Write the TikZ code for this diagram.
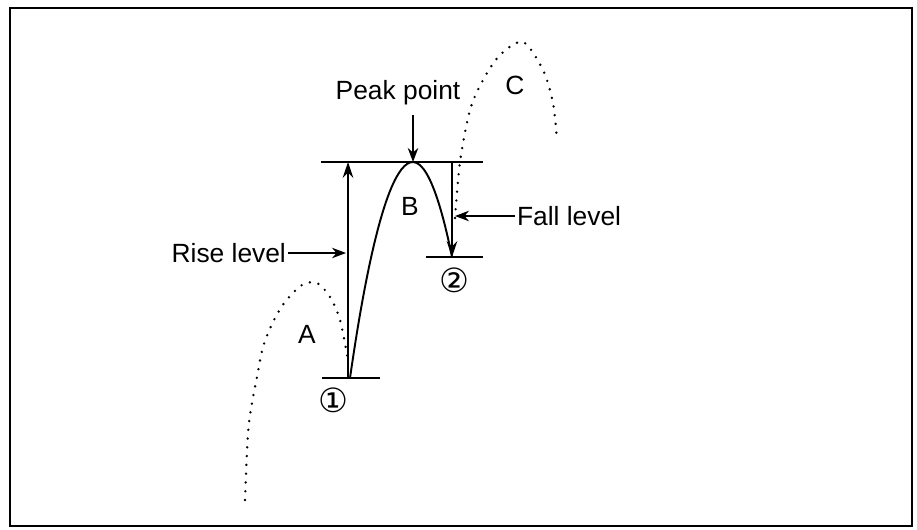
\documentclass[tikz,border=0pt]{standalone}
\usepackage{fontspec}
\setmainfont{Liberation Sans}
\newfontfamily\circfont{DejaVu Sans}
\usetikzlibrary{arrows.meta,positioning,calc}
\tikzset{
  lbl/.style={font=\fontsize{15}{18}\selectfont,inner sep=1pt},
  circnum/.style={font=\circfont\fontsize{19}{22}\selectfont,inner sep=0pt},
  levelline/.style={line width=0.8pt},
  pointer/.style={line width=0.6pt,-{Stealth[length=8pt,width=6pt]}},
  dotcurve/.style={line width=1.5pt,line cap=round,dash pattern=on 0pt off 5pt}
}

\begin{document}
\begin{tikzpicture}
    \useasboundingbox (0,0) rectangle (18.34,10.58);
    \draw[line width=1.2pt] (0.2,0.06) rectangle (18.24,10.42);
    % levels
    \coordinate (low1) at (6.96,3.02);
    \coordinate (peak) at (8.26,7.34);
    \coordinate (low2) at (9.04,5.44);
    \draw[levelline] (6.42,7.34) -- (9.66,7.34);
    \draw[levelline] (6.44,3.02) -- (7.6,3.02);
    \draw[levelline] (8.52,5.44) -- (9.66,5.44);
    \draw[line width=1.1pt,-{Stealth[length=9pt,width=6pt]}] (low1) -- (6.96,7.34);
    \draw[line width=1.1pt,-{Stealth[length=9pt,width=6pt]}] (9.04,7.34) -- (low2);
    \draw[line width=1.1pt] (7.0,3.02) parabola bend (peak) (low2);
    % dotted jumps
    \draw[dotcurve] plot[smooth] coordinates {(4.90,0.58) (4.96,1.92) (5.04,2.52)
      (5.14,3.04) (5.26,3.64) (5.46,4.14) (5.70,4.54) (6.04,4.88) (6.34,4.92)
      (6.60,4.64) (6.80,4.18) (6.96,3.38)};
    \draw[dotcurve] plot[smooth] coordinates {(9.10,6.22) (9.20,7.34) (9.40,8.38)
      (9.66,8.98) (10.0,9.48) (10.46,9.74) (10.86,9.18) (11.06,8.52) (11.14,7.78)};
    % labels
    \node[lbl] (pk) at (7.96,8.72) {Peak point};
    \node[lbl,anchor=east] (rise) at (5.76,5.52) {Rise level};
    \node[lbl,anchor=west] (fall) at (10.3,6.26) {Fall level};
    \coordinate (pkstart) at (8.26,8.28);
    \coordinate (riseend) at (6.92,5.52);
    \coordinate (fallend) at (9.1,6.26);
    \draw[pointer] (pkstart) -- (peak);
    \draw[pointer] (rise) -- (riseend);
    \draw[pointer] (fall) -- (fallend);
    \node[lbl] (jA) at (6.14,3.9) {A};
    \node[lbl] (jB) at (8.2,6.46) {B};
    \node[lbl] (jC) at (10.3,8.88) {C};
    \node[circnum] (n1) at (6.66,2.58) {①};
    \node[circnum] (n2) at (9.08,4.98) {②};
\end{tikzpicture}
\end{document}
